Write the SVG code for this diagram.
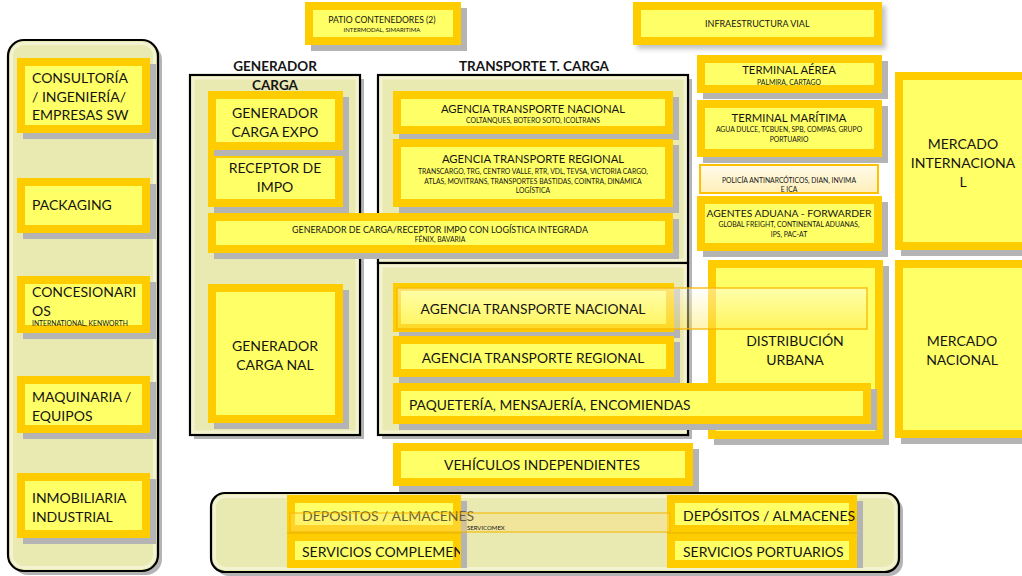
<svg xmlns="http://www.w3.org/2000/svg" width="1022" height="576" viewBox="0 0 1022 576">
<defs>
<style>
.o{fill:#FFCC00}
.i{fill:#FFFF66}
.sh{fill:#B4B4B4}
.ct{fill:#E9E9B2;stroke:#000;stroke-width:2.2}
.ci{fill:none;stroke:#F3F3D2;stroke-width:3}
.t{font-family:Lato,"Liberation Sans",sans-serif;fill:#151515}
.b{font-weight:bold}
.c{text-anchor:middle}
.s{font-size:6.8px}
.L{font-size:14px}
.M{font-size:13.8px}
</style>
<linearGradient id="ov" x1="0" y1="0" x2="0" y2="1">
<stop offset="0" stop-color="#FFFFFF" stop-opacity="0.45"/>
<stop offset="1" stop-color="#FFE850" stop-opacity="0.45"/>
</linearGradient>
<linearGradient id="pol" x1="0" y1="0" x2="0" y2="1">
<stop offset="0" stop-color="#FFFBEA"/>
<stop offset="1" stop-color="#FFEFB8"/>
</linearGradient>
<filter id="blur" x="-10%" y="-30%" width="120%" height="160%"><feGaussianBlur stdDeviation="2.5"/></filter>
<clipPath id="cDep"><rect x="280" y="511.5" width="200" height="30"/></clipPath>
<clipPath id="cServ"><rect x="280" y="535" width="180" height="30"/></clipPath>
<clipPath id="cPol"><rect x="700" y="165" width="178" height="28"/></clipPath>
</defs>

<!-- containers -->
<g id="containers">
<rect class="sh" x="12" y="44" width="150" height="531" rx="16"/>
<rect class="ct" x="8" y="40" width="150" height="531" rx="16"/>
<rect class="ci" x="11.5" y="43.5" width="143" height="524" rx="13"/>
<rect class="sh" x="194" y="79" width="170" height="360"/>
<rect class="ct" x="190" y="75" width="170" height="360"/>
<rect class="ci" x="193" y="78" width="164" height="354"/>
<rect class="sh" x="382" y="79" width="310" height="188"/>
<rect class="ct" x="378" y="75" width="310" height="188"/>
<rect class="ci" x="381" y="78" width="304" height="182"/>
<rect class="sh" x="382" y="267" width="310" height="172"/>
<rect class="ct" x="378" y="263" width="310" height="172"/>
<rect class="ci" x="381" y="266" width="304" height="166"/>
<rect class="sh" x="215" y="497" width="688" height="79" rx="14"/>
<rect class="ct" x="211" y="493" width="688" height="79" rx="14"/>
<rect class="ci" x="214.5" y="496.5" width="681" height="72" rx="11"/>
<text class="t b c" x="275" y="71" font-size="13.5">GENERADOR</text>
<text class="t b c" x="275" y="90" font-size="13.5">CARGA</text>
<text class="t b c" x="534" y="71" font-size="13.5">TRANSPORTE T. CARGA</text>
</g>

<g id="connectors"></g>

<!-- left column -->
<g id="consultoria">
<rect class="sh" x="23" y="64" width="133" height="75"/><rect class="o" x="17" y="58" width="133" height="75"/><rect class="i" x="25" y="66" width="117" height="59"/>
<text class="t L" x="32" y="83">CONSULTORÍA</text>
<text class="t L" x="32" y="101.5">/ INGENIERÍA/</text>
<text class="t L" x="32" y="120">EMPRESAS SW</text>
</g>
<g id="packaging">
<rect class="sh" x="23" y="184" width="133" height="55"/><rect class="o" x="17" y="178" width="133" height="55"/><rect class="i" x="25" y="186" width="117" height="39"/>
<text class="t L" x="32" y="210">PACKAGING</text>
</g>
<g id="concesionarios">
<rect class="sh" x="23" y="282" width="133" height="57"/><rect class="o" x="17" y="276" width="133" height="57"/><rect class="i" x="25" y="284" width="117" height="41"/>
<text class="t L" x="32" y="297">CONCESIONARI</text>
<text class="t L" x="32" y="315.5">OS</text>
<text class="t s" x="32" y="326">INTERNATIONAL, KENWORTH</text>
</g>
<g id="maquinaria">
<rect class="sh" x="23" y="382" width="133" height="57"/><rect class="o" x="17" y="376" width="133" height="57"/><rect class="i" x="25" y="384" width="117" height="41"/>
<text class="t L" x="32" y="402">MAQUINARIA /</text>
<text class="t L" x="32" y="420.5">EQUIPOS</text>
</g>
<g id="inmobiliaria">
<rect class="sh" x="23" y="479" width="133" height="65"/><rect class="o" x="17" y="473" width="133" height="65"/><rect class="i" x="25" y="481" width="117" height="49"/>
<text class="t L" x="32" y="503">INMOBILIARIA</text>
<text class="t L" x="32" y="521.5">INDUSTRIAL</text>
</g>

<!-- generador carga -->
<g id="receptor-impo">
<rect class="sh" x="214" y="156" width="135" height="57"/><rect class="o" x="208" y="150" width="135" height="57"/><rect class="i" x="216" y="158" width="119" height="41"/>
<text class="t L c" x="275" y="173">RECEPTOR DE</text>
<text class="t L c" x="275" y="192">IMPO</text>
</g>
<g id="generador-expo">
<rect class="sh" x="214" y="97" width="135" height="59"/><rect class="o" x="208" y="91" width="135" height="59"/><rect class="i" x="216" y="99" width="119" height="43"/>
<text class="t L c" x="275" y="118">GENERADOR</text>
<text class="t L c" x="275" y="136.5">CARGA EXPO</text>
</g>
<g id="generador-nal">
<rect class="sh" x="214" y="290" width="135" height="139"/><rect class="o" x="208" y="284" width="135" height="139"/><rect class="i" x="216" y="292" width="119" height="123"/>
<text class="t L c" x="275" y="351">GENERADOR</text>
<text class="t L c" x="275" y="369.5">CARGA NAL</text>
</g>

<!-- transporte top -->
<g id="agencia-nacional-1">
<rect class="sh" x="399" y="97" width="280" height="43"/><rect class="o" x="393" y="91" width="280" height="43"/><rect class="i" x="401" y="99" width="264" height="27"/>
<text class="t c" x="533" y="113" font-size="11.3">AGENCIA TRANSPORTE NACIONAL</text>
<text class="t s c" x="533" y="122.5">COLTANQUES, BOTERO SOTO, ICOLTRANS</text>
</g>
<g id="agencia-regional-1">
<rect class="sh" x="399" y="145" width="280" height="68"/><rect class="o" x="393" y="139" width="280" height="68"/><rect class="i" x="401" y="147" width="264" height="52"/>
<text class="t c" x="533" y="163" font-size="11.3">AGENCIA TRANSPORTE REGIONAL</text>
<text class="t s c" x="533" y="174">TRANSCARGO, TRG, CENTRO VALLE, RTR, VDL, TEVSA, VICTORIA CARGO,</text>
<text class="t s c" x="533" y="184">ATLAS, MOVITRANS, TRANSPORTES BASTIDAS, COINTRA, DINÁMICA</text>
<text class="t s c" x="533" y="193">LOGÍSTICA</text>
</g>
<g id="generador-integrado">
<rect class="sh" x="214" y="219" width="465" height="40"/><rect class="o" x="208" y="213" width="465" height="40"/><rect class="i" x="216" y="221" width="449" height="24"/>
<text class="t c" x="440" y="232.5" font-size="8.9">GENERADOR DE CARGA/RECEPTOR IMPO CON LOGÍSTICA INTEGRADA</text>
<text class="t s c" x="440" y="242">FÉNIX, BAVARIA</text>
</g>

<!-- right column -->
<g id="distribucion-urbana">
<rect class="sh" x="714" y="266" width="175" height="179"/><rect class="o" x="708" y="260" width="175" height="179"/><rect class="i" x="716" y="268" width="159" height="163"/>
<text class="t L c" x="795" y="346">DISTRIBUCIÓN</text>
<text class="t L c" x="795" y="365">URBANA</text>
</g>

<!-- transporte bottom -->
<g id="agencia-nacional-2">
<rect class="sh" x="399" y="289" width="281" height="49"/><rect class="o" x="393" y="283" width="281" height="49"/><rect class="i" x="401" y="291" width="265" height="33"/>
<rect x="397" y="288" width="470" height="41" fill="url(#ov)" stroke="#F7B500" stroke-width="1.5" stroke-opacity="0.85"/>
<text class="t M c" x="533" y="314">AGENCIA TRANSPORTE NACIONAL</text>
</g>
<g id="agencia-regional-2">
<rect class="sh" x="399" y="342" width="281" height="41"/><rect class="o" x="393" y="336" width="281" height="41"/><rect class="i" x="401" y="344" width="265" height="25"/>
<text class="t M c" x="533" y="363">AGENCIA TRANSPORTE REGIONAL</text>
</g>
<g id="paqueteria">
<rect class="sh" x="399" y="389" width="478" height="41"/><rect class="o" x="393" y="383" width="478" height="41"/><rect class="i" x="401" y="391" width="462" height="25"/>
<text class="t M" x="409" y="409.5">PAQUETERÍA, MENSAJERÍA, ENCOMIENDAS</text>
</g>

<g id="mercado-internacional">
<rect class="sh" x="901" y="78" width="140" height="178"/><rect class="o" x="895" y="72" width="140" height="178"/><rect class="i" x="903" y="80" width="124" height="162"/>
<text class="t L c" x="963" y="149">MERCADO</text>
<text class="t L c" x="963" y="168">INTERNACIONA</text>
<text class="t L c" x="963" y="187">L</text>
</g>
<g id="mercado-nacional">
<rect class="sh" x="901" y="266" width="140" height="178"/><rect class="o" x="895" y="260" width="140" height="178"/><rect class="i" x="903" y="268" width="124" height="162"/>
<text class="t L c" x="962" y="346">MERCADO</text>
<text class="t L c" x="962" y="365">NACIONAL</text>
</g>

<!-- top -->
<g id="patio-contenedores">
<rect class="sh" x="311" y="8" width="156" height="43"/><rect class="o" x="305" y="2" width="156" height="43"/><rect class="i" x="313" y="10" width="140" height="27"/>
<text class="t c" x="382" y="22.5" font-size="8.6">PATIO CONTENEDORES (2)</text>
<text class="t c" x="382" y="31.5" font-size="6">INTERMODAL, SIMARITIMA</text>
</g>
<g id="infraestructura-vial">
<rect x="637" y="6" width="249" height="43" fill="#9A9A9A" opacity="0.6" filter="url(#blur)"/>
<rect class="o" x="633" y="2" width="249" height="43"/><rect class="i" x="641" y="10" width="233" height="27"/>
<text class="t" x="705" y="27" font-size="9">INFRAESTRUCTURA VIAL</text>
</g>
<g id="terminal-aerea">
<rect class="sh" x="703" y="61" width="185" height="38"/><rect class="o" x="697" y="55" width="185" height="38"/><rect class="i" x="705" y="63" width="169" height="22"/>
<text class="t c" x="789" y="74" font-size="11.3">TERMINAL AÉREA</text>
<text class="t s c" x="789" y="85">PALMIRA, CARTAGO</text>
</g>
<g id="terminal-maritima">
<rect class="sh" x="703" y="106" width="185" height="57"/><rect class="o" x="697" y="100" width="185" height="57"/><rect class="i" x="705" y="108" width="169" height="41"/>
<text class="t c" x="789" y="122" font-size="11.3">TERMINAL MARÍTIMA</text>
<text class="t s c" x="789" y="132">AGUA DULCE, TCBUEN, SPB, COMPAS, GRUPO</text>
<text class="t s c" x="789" y="142">PORTUARIO</text>
</g>
<g id="policia">
<rect x="700" y="165" width="178" height="28" fill="url(#pol)" stroke="#FFC000" stroke-width="2"/>
<g clip-path="url(#cPol)">
<text class="t s c" x="789" y="183">POLICÍA ANTINARCÓTICOS, DIAN, INVIMA</text>
<text class="t s c" x="789" y="192">E ICA</text>
</g>
</g>
<g id="agentes-aduana">
<rect class="sh" x="703" y="202" width="185" height="55"/><rect class="o" x="697" y="196" width="185" height="55"/><rect class="i" x="705" y="204" width="169" height="39"/>
<text class="t c" x="789" y="217" font-size="10.3">AGENTES ADUANA - FORWARDER</text>
<text class="t s c" x="789" y="227">GLOBAL FREIGHT, CONTINENTAL ADUANAS,</text>
<text class="t s c" x="789" y="237">IPS, PAC-AT</text>
</g>

<g id="vehiculos">
<rect class="sh" x="399" y="449" width="300" height="43"/><rect class="o" x="393" y="443" width="300" height="43"/><rect class="i" x="401" y="451" width="284" height="27"/>
<text class="t M c" x="542" y="470">VEHÍCULOS INDEPENDIENTES</text>
</g>

<!-- bottom -->
<g id="depositos-1">
<rect class="sh" x="293" y="501" width="174" height="67"/>
<rect class="o" x="287" y="495" width="174" height="38"/><rect class="i" x="295" y="503" width="158" height="22"/>
<rect class="o" x="287" y="533" width="174" height="35"/><rect class="i" x="295" y="541" width="158" height="19"/>
<line x1="287" y1="533" x2="461" y2="533" stroke="#E0B400" stroke-width="1"/>
<text class="t L" x="302" y="521" clip-path="url(#cDep)">DEPÓSITOS / ALMACENES</text>
<text class="t L" x="302" y="557" clip-path="url(#cServ)">SERVICIOS COMPLEMEN</text>
</g>
<g id="depositos-2">
<rect class="sh" x="673" y="501" width="190" height="67"/>
<rect class="o" x="667" y="495" width="190" height="38"/><rect class="i" x="675" y="503" width="174" height="22"/>
<rect class="o" x="667" y="533" width="190" height="35"/><rect class="i" x="675" y="541" width="174" height="19"/>
<line x1="667" y1="533" x2="857" y2="533" stroke="#E0B400" stroke-width="1"/>
<text class="t L" x="683" y="521">DEPÓSITOS / ALMACENES</text>
<text class="t L" x="683" y="557">SERVICIOS PORTUARIOS</text>
</g>
<g id="servicomex">
<rect x="290" y="513" width="380" height="19" fill="#FFDF70" fill-opacity="0.35" stroke="#F5B800" stroke-width="1.3" stroke-opacity="0.8"/>
<text class="t" x="467" y="530" font-size="6">SERVICOMEX</text>
</g>
</svg>
